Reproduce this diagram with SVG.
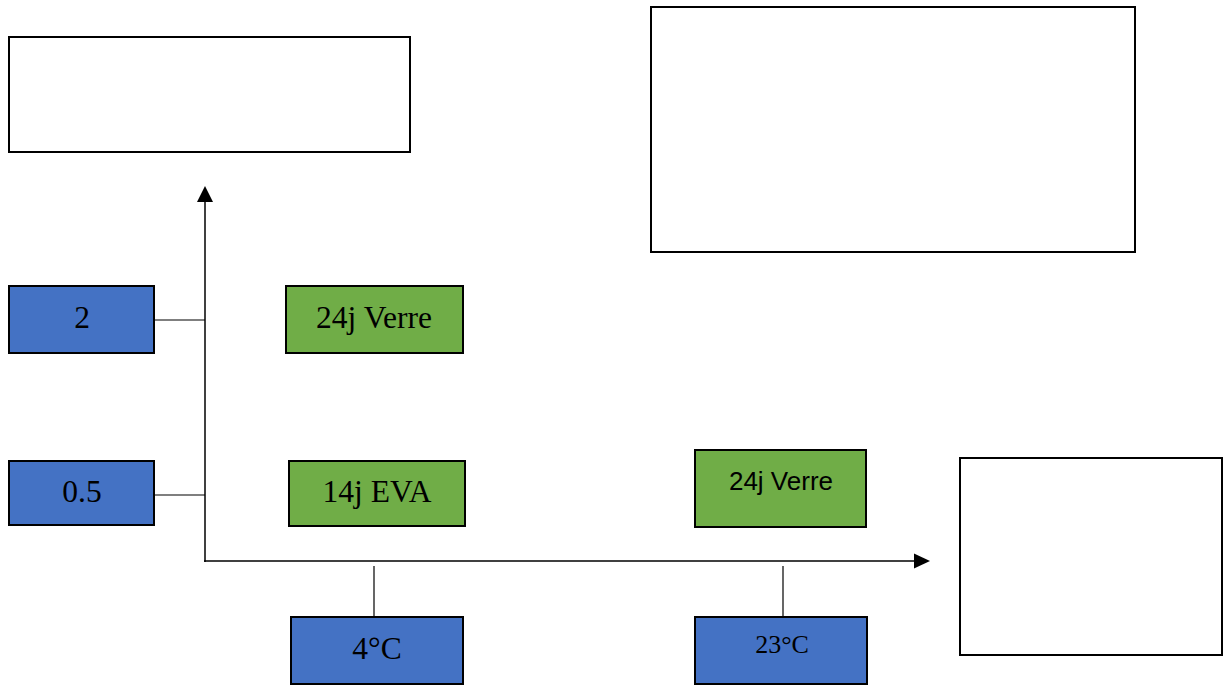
<svg xmlns="http://www.w3.org/2000/svg" width="1226" height="686" viewBox="0 0 1226 686">
<style>
.frame{fill:#ffffff;stroke:#000;stroke-width:2}
.blue{fill:#4472C4;stroke:#000;stroke-width:2}
.green{fill:#70AD47;stroke:#000;stroke-width:2}
.t{font-family:"Liberation Serif","Times New Roman",serif;font-size:31.5px;fill:#000;text-anchor:middle}
.s{font-family:"Liberation Sans",Arial,sans-serif;font-size:26px;fill:#000;text-anchor:middle}
.ln{stroke:#000;stroke-width:1.2;fill:none}
.ax{stroke:#000;stroke-width:1.5;fill:none}
</style>
<g id="frame-top-left"><rect class="frame" x="9" y="37" width="401" height="115"/></g>
<g id="frame-top-right"><rect class="frame" x="651" y="7" width="484" height="245"/></g>
<g id="frame-right"><rect class="frame" x="960" y="458" width="262" height="197"/></g>
<g id="connectors">
<line class="ax" x1="205" y1="562" x2="205" y2="202"/>
<path d="M205,186 L213,202 L197,202 Z" fill="#000"/>
<line class="ax" x1="204" y1="561" x2="915" y2="561"/>
<path d="M930,561 L914,553.5 L914,568.5 Z" fill="#000"/>
<line class="ln" x1="155" y1="320" x2="205" y2="320"/>
<line class="ln" x1="154" y1="495" x2="205" y2="495"/>
<line class="ln" x1="374" y1="566" x2="374" y2="617"/>
<line class="ln" x1="783" y1="566" x2="783" y2="617"/>
</g>
<g id="node-2"><rect class="blue" x="9" y="286" width="145" height="67"/><text class="t" x="82" y="328">2</text></g>
<g id="node-24j-verre-1"><rect class="green" x="286" y="286" width="177" height="67"/><text class="t" x="374" y="328">24j Verre</text></g>
<g id="node-0-5"><rect class="blue" x="9" y="461" width="145" height="64"/><text class="t" x="82" y="502">0.5</text></g>
<g id="node-14j-eva"><rect class="green" x="289" y="461" width="176" height="65"/><text class="t" x="377" y="502">14j EVA</text></g>
<g id="node-24j-verre-2"><rect class="green" x="695" y="450" width="171" height="77"/><text class="s" x="781" y="490">24j Verre</text></g>
<g id="node-4c"><rect class="blue" x="291" y="617" width="172" height="67"/><text class="t" x="377" y="659">4°C</text></g>
<g id="node-23c"><rect class="blue" x="695" y="617" width="172" height="67"/><text class="t" x="782" y="653" style="font-size:26px">23°C</text></g>
</svg>
